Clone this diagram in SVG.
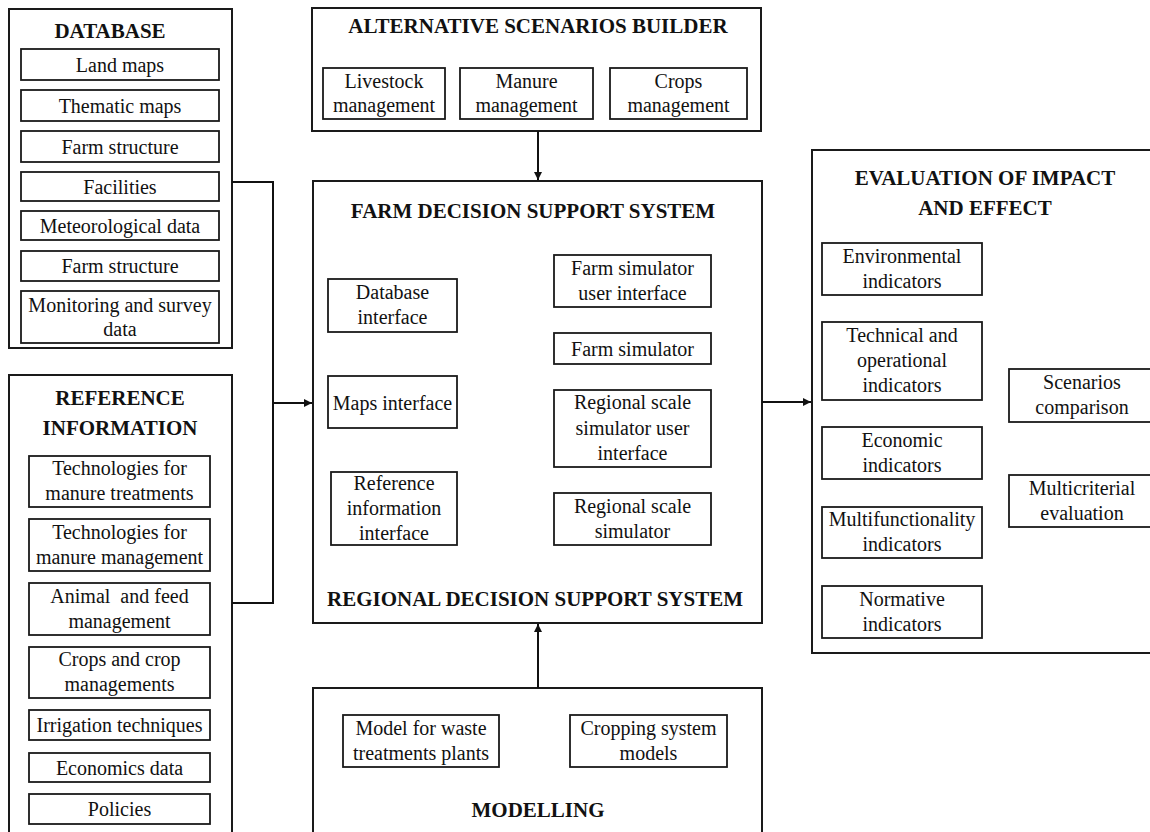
<svg xmlns="http://www.w3.org/2000/svg" width="1150" height="832" viewBox="0 0 1150 832">
  <style>
    .outer { fill: #ffffff; stroke: #1a1a1a; stroke-width: 2; }
    .inner { fill: #ffffff; stroke: #1a1a1a; stroke-width: 1.8; }
    .t { font-family: "Liberation Serif", "DejaVu Serif", serif; font-size: 20px; fill: #111111; text-anchor: middle; }
    .h { font-family: "Liberation Serif", "DejaVu Serif", serif; font-size: 21px; font-weight: bold; fill: #111111; text-anchor: middle; }
    .link { fill: none; stroke: #111111; stroke-width: 2; }
  </style>
  <defs>
    <marker id="arrow" markerUnits="userSpaceOnUse" markerWidth="9" markerHeight="9" refX="8" refY="4.5" orient="auto">
      <path d="M0,0.5 L8,4.5 L0,8.5 Z" fill="#111111"/>
    </marker>
  </defs>
  <rect width="1150" height="832" fill="#ffffff"/>

  <!-- Database -->
  <g id="database">
    <rect class="outer" x="9" y="9" width="223" height="339"/>
    <text class="h" x="110" y="38">DATABASE</text>
    <rect class="inner" x="21" y="49" width="198" height="31"/>
    <text class="t" x="120" y="72">Land maps</text>
    <rect class="inner" x="21" y="90" width="198" height="31"/>
    <text class="t" x="120" y="113">Thematic maps</text>
    <rect class="inner" x="21" y="131" width="198" height="31"/>
    <text class="t" x="120" y="154">Farm structure</text>
    <rect class="inner" x="21" y="172" width="198" height="29"/>
    <text class="t" x="120" y="194">Facilities</text>
    <rect class="inner" x="21" y="211" width="198" height="29"/>
    <text class="t" x="120" y="233">Meteorological data</text>
    <rect class="inner" x="21" y="251" width="198" height="30"/>
    <text class="t" x="120" y="273">Farm structure</text>
    <rect class="inner" x="21" y="291" width="198" height="52"/>
    <text class="t" x="120" y="312">Monitoring and survey</text>
    <text class="t" x="120" y="336">data</text>
  </g>

  <!-- Reference information -->
  <g id="reference-information">
    <rect class="outer" x="9" y="375" width="223" height="470"/>
    <text class="h" x="120" y="405">REFERENCE</text>
    <text class="h" x="120" y="435">INFORMATION</text>
    <rect class="inner" x="29" y="456" width="181" height="51"/>
    <text class="t" x="119.5" y="475">Technologies for</text>
    <text class="t" x="119.5" y="500">manure treatments</text>
    <rect class="inner" x="29" y="519" width="181" height="52"/>
    <text class="t" x="119.5" y="539">Technologies for</text>
    <text class="t" x="119.5" y="564">manure management</text>
    <rect class="inner" x="29" y="583" width="181" height="52"/>
    <text class="t" x="119.5" y="603" xml:space="preserve">Animal  and feed</text>
    <text class="t" x="119.5" y="628">management</text>
    <rect class="inner" x="29" y="647" width="181" height="51"/>
    <text class="t" x="119.5" y="666">Crops and crop</text>
    <text class="t" x="119.5" y="691">managements</text>
    <rect class="inner" x="29" y="710" width="181" height="30"/>
    <text class="t" x="119.5" y="732">Irrigation techniques</text>
    <rect class="inner" x="29" y="753" width="181" height="29"/>
    <text class="t" x="119.5" y="775">Economics data</text>
    <rect class="inner" x="29" y="794" width="181" height="30"/>
    <text class="t" x="119.5" y="816">Policies</text>
  </g>

  <!-- Alternative scenarios builder -->
  <g id="scenarios-builder">
    <rect class="outer" x="312" y="8" width="449" height="123"/>
    <text class="h" x="538" y="33">ALTERNATIVE SCENARIOS BUILDER</text>
    <rect class="inner" x="323" y="68" width="122" height="51"/>
    <text class="t" x="384" y="88">Livestock</text>
    <text class="t" x="384" y="112">management</text>
    <rect class="inner" x="460" y="68" width="133" height="51"/>
    <text class="t" x="526.5" y="88">Manure</text>
    <text class="t" x="526.5" y="112">management</text>
    <rect class="inner" x="610" y="68" width="137" height="51"/>
    <text class="t" x="678.5" y="88">Crops</text>
    <text class="t" x="678.5" y="112">management</text>
  </g>

  <!-- Farm / regional decision support system -->
  <g id="decision-support-system">
    <rect class="outer" x="313" y="181" width="449" height="442"/>
    <text class="h" x="533" y="218">FARM DECISION SUPPORT SYSTEM</text>
    <text class="h" x="535" y="606">REGIONAL DECISION SUPPORT SYSTEM</text>
    <rect class="inner" x="328" y="279" width="129" height="53"/>
    <text class="t" x="392.5" y="299">Database</text>
    <text class="t" x="392.5" y="324">interface</text>
    <rect class="inner" x="328" y="376" width="129" height="52"/>
    <text class="t" x="392.5" y="410">Maps interface</text>
    <rect class="inner" x="331" y="472" width="126" height="73"/>
    <text class="t" x="394" y="490">Reference</text>
    <text class="t" x="394" y="515">information</text>
    <text class="t" x="394" y="540">interface</text>
    <rect class="inner" x="554" y="255" width="157" height="52"/>
    <text class="t" x="632.5" y="275">Farm simulator</text>
    <text class="t" x="632.5" y="300">user interface</text>
    <rect class="inner" x="554" y="333" width="157" height="31"/>
    <text class="t" x="632.5" y="356">Farm simulator</text>
    <rect class="inner" x="554" y="390" width="157" height="77"/>
    <text class="t" x="632.5" y="409">Regional scale</text>
    <text class="t" x="632.5" y="435">simulator user</text>
    <text class="t" x="632.5" y="460">interface</text>
    <rect class="inner" x="554" y="493" width="157" height="52"/>
    <text class="t" x="632.5" y="513">Regional scale</text>
    <text class="t" x="632.5" y="538">simulator</text>
  </g>

  <!-- Evaluation of impact and effect -->
  <g id="evaluation">
    <rect class="outer" x="812" y="150" width="350" height="503"/>
    <text class="h" x="985" y="185">EVALUATION OF IMPACT</text>
    <text class="h" x="985" y="215">AND EFFECT</text>
    <rect class="inner" x="822" y="243" width="160" height="52"/>
    <text class="t" x="902" y="263">Environmental</text>
    <text class="t" x="902" y="288">indicators</text>
    <rect class="inner" x="822" y="322" width="160" height="78"/>
    <text class="t" x="902" y="342">Technical and</text>
    <text class="t" x="902" y="367">operational</text>
    <text class="t" x="902" y="392">indicators</text>
    <rect class="inner" x="822" y="427" width="160" height="52"/>
    <text class="t" x="902" y="447">Economic</text>
    <text class="t" x="902" y="472">indicators</text>
    <rect class="inner" x="822" y="507" width="160" height="51"/>
    <text class="t" x="902" y="526">Multifunctionality</text>
    <text class="t" x="902" y="551">indicators</text>
    <rect class="inner" x="822" y="586" width="160" height="52"/>
    <text class="t" x="902" y="606">Normative</text>
    <text class="t" x="902" y="631">indicators</text>
    <rect class="inner" x="1009" y="369" width="150" height="53"/>
    <text class="t" x="1082" y="389">Scenarios</text>
    <text class="t" x="1082" y="414">comparison</text>
    <rect class="inner" x="1009" y="475" width="150" height="52"/>
    <text class="t" x="1082" y="495">Multicriterial</text>
    <text class="t" x="1082" y="520">evaluation</text>
  </g>

  <!-- Modelling -->
  <g id="modelling">
    <rect class="outer" x="313" y="688" width="449" height="160"/>
    <rect class="inner" x="343" y="715" width="156" height="52"/>
    <text class="t" x="421" y="735">Model for waste</text>
    <text class="t" x="421" y="760">treatments plants</text>
    <rect class="inner" x="570" y="715" width="157" height="52"/>
    <text class="t" x="648.5" y="735">Cropping system</text>
    <text class="t" x="648.5" y="760">models</text>
    <text class="h" x="538" y="817">MODELLING</text>
  </g>

  <!-- Connectors -->
  <g id="connectors">
    <path class="link" d="M232,182 H273 V603 H232"/>
    <path class="link" d="M273,403 H312" marker-end="url(#arrow)"/>
    <path class="link" d="M538,131 V180" marker-end="url(#arrow)"/>
    <path class="link" d="M538,688 V624" marker-end="url(#arrow)"/>
    <path class="link" d="M762,402 H811" marker-end="url(#arrow)"/>
  </g>
</svg>
